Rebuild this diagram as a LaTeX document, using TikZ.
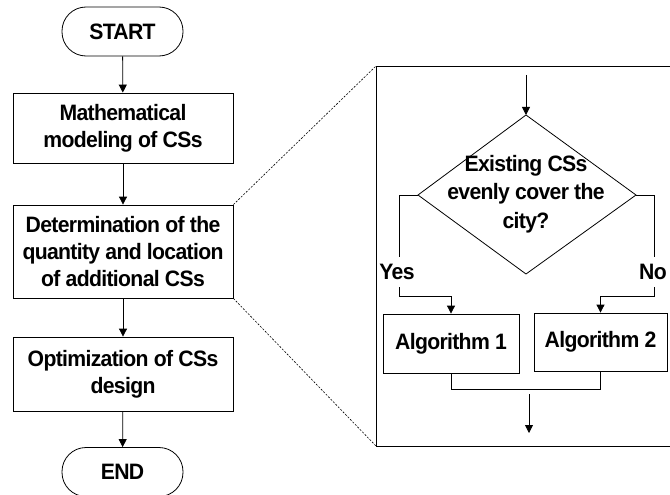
\documentclass[tikz,border=0pt]{standalone}
\usepackage{fontspec}
\setmainfont{Liberation Sans}[FakeStretch=0.95, LetterSpace=-3]
\usetikzlibrary{arrows.meta}
\begin{document}
\begin{tikzpicture}[x=1pt,y=-1pt,
  line width=0.8pt,
  every node/.style={font=\fontsize{22.3}{26.7}\selectfont\bfseries, align=center, inner sep=0pt},
  proc/.style={draw, rectangle},
  term/.style={draw, rectangle, rounded corners=24pt, minimum width=121pt, minimum height=49pt},
  arr/.style={-{Triangle[length=8pt,width=8pt]}},
  zoomline/.style={dash pattern=on 2pt off 1.5pt, line width=0.6pt}
]
\useasboundingbox (0,0) rectangle (670,495);
% left column
\node[term] (start) at (122.5,31.5) {START};
\node[proc, minimum width=220pt, minimum height=70pt] (b1) at (123,128) {Mathematical\\modeling of CSs};
\node[proc, minimum width=220pt, minimum height=93pt] (b2) at (123,251.5) {Determination of the\\quantity and location\\of additional CSs};
\node[proc, minimum width=220pt, minimum height=74pt] (b3) at (123,374) {Optimization of CSs\\design};
\node[term] (end) at (122.5,472) {END};
\draw[arr] (start) -- (b1);
\draw[arr] (b1) -- (b2);
\draw[arr] (b2) -- (b3);
\draw[arr] (b3) -- (end);
% panel
\coordinate (ptl) at (376,66);
\coordinate (pbl) at (376,446);
\coordinate (ptr) at (672,66);
\coordinate (pbr) at (672,446);
\draw (ptr) -- (ptl) -- (pbl) -- (pbr);
\draw[zoomline] (b2.north east) -- (ptl);
\draw[zoomline] (b2.south east) -- (pbl);
% diamond
\coordinate (dt) at (526,115);
\coordinate (db) at (526,274);
\coordinate (dl) at (418,195);
\coordinate (dr) at (636,195);
\draw (dt) -- (dr) -- (db) -- (dl) -- cycle;
\node[font=\fontsize{22.3}{28.5}\selectfont\bfseries] (q) at (526,194) {Existing CSs\\evenly cover the\\city?};
\coordinate (in) at (526,75);
\draw[arr] (in) -- (dt);
\node (yes) at (397,272) {Yes};
\node (no) at (653,272) {No};
\node[proc, minimum width=136pt, minimum height=59pt] (a1) at (451,343.5) {Algorithm 1};
\node[proc, minimum width=133pt, minimum height=58pt] (a2) at (600.5,342) {Algorithm 2};
\coordinate (yl) at (399,257);
\coordinate (ys) at (399,287);
\coordinate (nl) at (654,257);
\coordinate (ns) at (654,287);
\draw (dl) -| (yl);
\draw (dr) -| (nl);
\draw[arr] (ys) -- (399,296) -| (a1.north);
\draw[arr] (ns) -- (654,296) -| (a2.north);
\draw (a1.south) -- (451,389) -| (a2.south);
\coordinate (o1) at (529,394);
\coordinate (o2) at (529,433);
\draw[arr] (o1) -- (o2);
\end{tikzpicture}
\end{document}
